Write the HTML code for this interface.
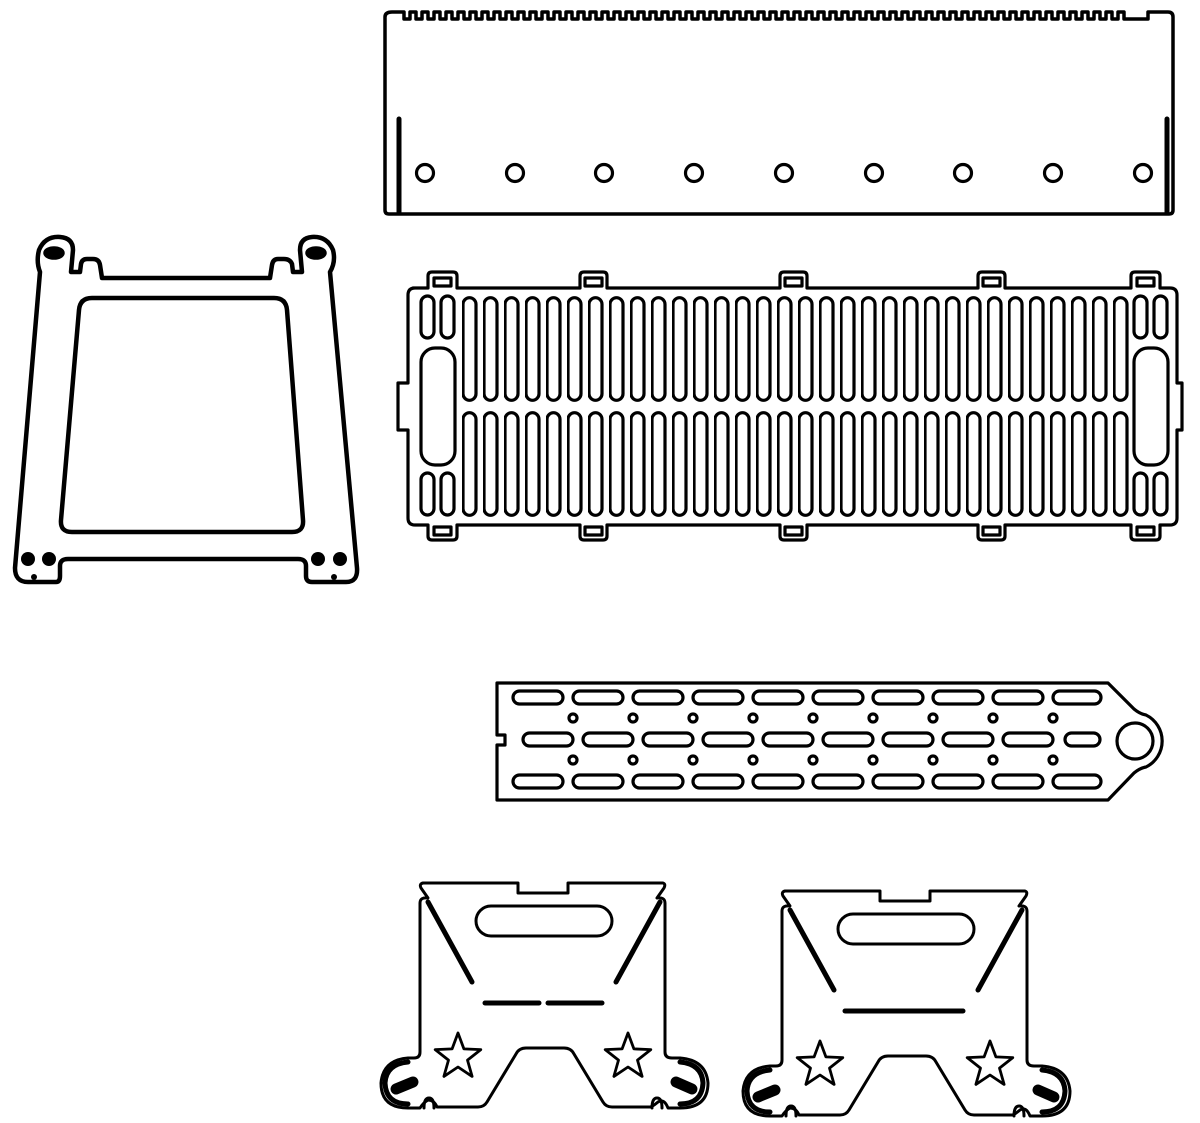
<!DOCTYPE html>
<html><head><meta charset="utf-8"><style>html,body{margin:0;padding:0;background:#fff}svg{display:block}</style></head>
<body>
<svg width="1200" height="1123" viewBox="0 0 1200 1123" xmlns="http://www.w3.org/2000/svg" fill="none" stroke="#000" stroke-width="3.5" stroke-linejoin="round" stroke-linecap="round">
<defs>
<pattern id="gs" patternUnits="userSpaceOnUse" x="462" y="296" width="21" height="106">
<rect x="1" y="1.7" width="13" height="102.6" rx="6.5" stroke="#000" stroke-width="3.2" fill="none"/>
</pattern>
<polygon id="star" points="0,-24 5.9,-8.1 22.8,-7.4 9.5,3.1 14.1,19.4 0,10 -14.1,19.4 -9.5,3.1 -22.8,-7.4 -5.9,-8.1" stroke-width="2.8"/>
<g id="bracketbase">
<path d="M423,883 H518 V893 H568 V883 H663 Q666,884 664,888 L657,898 Q665,897 665,903 V1052 Q665,1058 672,1058 H680 Q706,1060 708,1083 Q708,1108 680,1108 H668 Q664,1098 658,1102 Q652,1107 650,1107 H612 Q606,1107 603,1102 L574,1054 Q571,1048 564,1048 H526 Q519,1048 516,1054 L487,1102 Q484,1107 478,1107 H437 Q434,1100 428,1100 Q423,1103 420,1108 H408 Q381,1108 381,1083 Q383,1060 408,1058 H414 Q420,1058 420,1052 V903 Q420,897 428,898 L421,888 Q419,884 423,883 Z" stroke-width="3"/>
<path d="M408,1062 Q386,1064 385,1083 Q386,1104 408,1104" stroke-width="5"/>
<path d="M680,1062 Q702,1064 703,1083 Q702,1104 680,1104" stroke-width="5"/>
<line x1="428" y1="902" x2="472" y2="982" stroke-width="5"/>
<line x1="660" y1="902" x2="616" y2="982" stroke-width="5"/>
<rect x="476" y="906" width="136" height="30" rx="15" stroke-width="3"/>
<use href="#star" x="458" y="1057"/>
<use href="#star" x="628" y="1057"/>
<line x1="396" y1="1089" x2="413" y2="1082" stroke-width="11"/>
<line x1="676" y1="1082" x2="692" y2="1089" stroke-width="11"/>
<path d="M424,1108 Q424,1098 429,1098 Q434,1098 434,1108" stroke-width="3"/>
<path d="M652,1108 Q652,1098 657,1098 Q662,1098 662,1108" stroke-width="3"/>
</g>
</defs>

<!-- top bar -->
<path d="M392,12 H404 V19 h6v-7h6v7h6v-7h6v7h6v-7h6v7h6v-7h6v7h6v-7h6v7h6v-7h6v7h6v-7h6v7h6v-7h6v7h6v-7h6v7h6v-7h6v7h6v-7h6v7h6v-7h6v7h6v-7h6v7h6v-7h6v7h6v-7h6v7h6v-7h6v7h6v-7h6v7h6v-7h6v7h6v-7h6v7h6v-7h6v7h6v-7h6v7h6v-7h6v7h6v-7h6v7h6v-7h6v7h6v-7h6v7h6v-7h6v7h6v-7h6v7h6v-7h6v7h6v-7h6v7h6v-7h6v7h6v-7h6v7h6v-7h6v7h6v-7h6v7h6v-7h6v7h6v-7h6v7h6v-7h6v7h6v-7h6v7h6v-7h6v7h6v-7h6v7h6v-7h6v7h6v-7h6v7h6v-7h6v7h6v-7h6v7h6v-7h6v7h6v-7h6v7h6v-7h6v7h6v-7h6v7h6v-7h6v7h6v-7h6v7h6v-7h6v7h6v-7h6v7h6v-7h6v7h6v-7h6v7h6v-7h6v7h6v-7h6v7h6v-7h6v7h6v-7h6v7h6v-7h6v7h6v-7h6v7h6v-7h6v7 H1148 V12 H1168 Q1173,12 1173,17 V210 Q1173,214 1169,214 H389 Q385,214 385,210 V17 Q385,12 392,12 Z"/>
<line x1="399" y1="119" x2="399" y2="212" stroke-width="5"/>
<line x1="1167" y1="119" x2="1167" y2="212" stroke-width="5"/>
<g stroke-width="3.2">
<circle cx="425" cy="173" r="8.5"/><circle cx="515" cy="173" r="8.5"/><circle cx="604" cy="173" r="8.5"/><circle cx="694" cy="173" r="8.5"/><circle cx="784" cy="173" r="8.5"/><circle cx="874" cy="173" r="8.5"/><circle cx="963" cy="173" r="8.5"/><circle cx="1053" cy="173" r="8.5"/><circle cx="1143" cy="173" r="8.5"/>
</g>

<!-- left frame -->
<path d="M40,272 L15,568 Q15,582 28,582 H56 Q60,582 60,576 V566 Q60,559 68,559 H298 Q306,559 306,566 V576 Q306,582 312,582 H346 Q358,582 357,568 L330,272 Q336,262 333,250 Q327,236 312,237 Q300,238 300,250 L302,272 H293 L292,264 Q290,259 284,259 H278 Q273,259 272,265 L270,278 H102 L100,265 Q99,259 93,259 H87 Q82,259 81,264 L80,272 H71 L73,250 Q73,238 60,237 Q45,236 39,250 Q36,262 40,272 Z" stroke-width="4.5"/>
<ellipse cx="54" cy="253" rx="9" ry="5" fill="#000"/>
<ellipse cx="316" cy="253" rx="9" ry="5" fill="#000"/>
<path d="M92,298 H274 Q286,298 287,310 L303,520 Q304,532 292,532 H72 Q60,532 61,520 L79,310 Q80,298 92,298 Z" stroke-width="4.5"/>
<g fill="#000" stroke="none">
<circle cx="28" cy="559" r="7"/><circle cx="49" cy="559" r="7"/><circle cx="318" cy="559" r="7"/><circle cx="340" cy="559" r="7"/>
<circle cx="34" cy="577" r="3"/><circle cx="334" cy="577" r="3"/>
</g>

<!-- grate -->
<g stroke-width="3.2">
<path d="M413,288 H428 V276 Q428,272 432,272 H453 Q457,272 457,276 V288 H580 V276 Q580,272 584,272 H603 Q607,272 607,276 V288 H780 V276 Q780,272 784,272 H803 Q807,272 807,276 V288 H978 V276 Q978,272 982,272 H1001 Q1005,272 1005,276 V288 H1131 V276 Q1131,272 1135,272 H1156 Q1160,272 1160,276 V288 H1170 Q1177,288 1177,295 V383 H1182 V430 H1177 V518 Q1177,525 1170,525 H1160 V536 Q1160,540 1156,540 H1135 Q1131,540 1131,536 V525 H1005 V536 Q1005,540 1001,540 H982 Q978,540 978,536 V525 H807 V536 Q807,540 803,540 H784 Q780,540 780,536 V525 H607 V536 Q607,540 603,540 H584 Q580,540 580,536 V525 H457 V536 Q457,540 453,540 H432 Q428,540 428,536 V525 H415 Q408,525 408,518 V430 H398 V383 H408 V295 Q408,288 415,288 Z"/>
<rect x="434" y="278" width="17" height="8"/><rect x="585" y="278" width="17" height="8"/><rect x="785" y="278" width="17" height="8"/><rect x="983" y="278" width="17" height="8"/><rect x="1137" y="278" width="17" height="8"/>
<rect x="434" y="527" width="17" height="8"/><rect x="585" y="527" width="17" height="8"/><rect x="785" y="527" width="17" height="8"/><rect x="983" y="527" width="17" height="8"/><rect x="1137" y="527" width="17" height="8"/>
<rect x="421" y="348" width="34" height="117" rx="14"/>
<rect x="1134" y="348" width="34" height="117" rx="14"/>
<rect x="421" y="296" width="13" height="42" rx="6.5"/><rect x="441" y="296" width="13" height="42" rx="6.5"/>
<rect x="421" y="473" width="13" height="42" rx="6.5"/><rect x="441" y="473" width="13" height="42" rx="6.5"/>
<rect x="1134" y="296" width="13" height="42" rx="6.5"/><rect x="1154" y="296" width="13" height="42" rx="6.5"/>
<rect x="1134" y="473" width="13" height="42" rx="6.5"/><rect x="1154" y="473" width="13" height="42" rx="6.5"/>
</g>
<rect x="462" y="296" width="672" height="106" fill="url(#gs)" stroke="none"/>
<g transform="translate(0,115)"><rect x="462" y="296" width="672" height="106" fill="url(#gs)" stroke="none"/></g>

<!-- plank -->
<g stroke-width="3.2">
<path d="M497,683 H1108 L1134,709 Q1140,714 1146,715 A29,29 0 0 1 1146,767 Q1140,768 1134,773 L1108,800 H497 V745 H505 V735 H497 Z"/>
<circle cx="1135" cy="741" r="18"/>
<g>
<rect x="513" y="691" width="50" height="13" rx="6.5"/><rect x="573" y="691" width="50" height="13" rx="6.5"/><rect x="633" y="691" width="50" height="13" rx="6.5"/><rect x="693" y="691" width="50" height="13" rx="6.5"/><rect x="753" y="691" width="50" height="13" rx="6.5"/><rect x="813" y="691" width="50" height="13" rx="6.5"/><rect x="873" y="691" width="50" height="13" rx="6.5"/><rect x="933" y="691" width="50" height="13" rx="6.5"/><rect x="993" y="691" width="50" height="13" rx="6.5"/><rect x="1053" y="691" width="48" height="13" rx="6.5"/>
</g>
<g transform="translate(0,84)">
<rect x="513" y="691" width="50" height="13" rx="6.5"/><rect x="573" y="691" width="50" height="13" rx="6.5"/><rect x="633" y="691" width="50" height="13" rx="6.5"/><rect x="693" y="691" width="50" height="13" rx="6.5"/><rect x="753" y="691" width="50" height="13" rx="6.5"/><rect x="813" y="691" width="50" height="13" rx="6.5"/><rect x="873" y="691" width="50" height="13" rx="6.5"/><rect x="933" y="691" width="50" height="13" rx="6.5"/><rect x="993" y="691" width="50" height="13" rx="6.5"/><rect x="1053" y="691" width="48" height="13" rx="6.5"/>
</g>
<rect x="523" y="733" width="50" height="13" rx="6.5"/><rect x="583" y="733" width="50" height="13" rx="6.5"/><rect x="643" y="733" width="50" height="13" rx="6.5"/><rect x="703" y="733" width="50" height="13" rx="6.5"/><rect x="763" y="733" width="50" height="13" rx="6.5"/><rect x="823" y="733" width="50" height="13" rx="6.5"/><rect x="883" y="733" width="50" height="13" rx="6.5"/><rect x="943" y="733" width="50" height="13" rx="6.5"/><rect x="1003" y="733" width="50" height="13" rx="6.5"/><rect x="1065" y="733" width="35" height="13" rx="6.5"/>
<circle cx="573" cy="718" r="4"/><circle cx="633" cy="718" r="4"/><circle cx="693" cy="718" r="4"/><circle cx="753" cy="718" r="4"/><circle cx="813" cy="718" r="4"/><circle cx="873" cy="718" r="4"/><circle cx="933" cy="718" r="4"/><circle cx="993" cy="718" r="4"/><circle cx="1053" cy="718" r="4"/>
<circle cx="573" cy="760" r="4"/><circle cx="633" cy="760" r="4"/><circle cx="693" cy="760" r="4"/><circle cx="753" cy="760" r="4"/><circle cx="813" cy="760" r="4"/><circle cx="873" cy="760" r="4"/><circle cx="933" cy="760" r="4"/><circle cx="993" cy="760" r="4"/><circle cx="1053" cy="760" r="4"/>
</g>

<!-- brackets -->
<g>
<use href="#bracketbase"/>
<line x1="485" y1="1003" x2="539" y2="1003" stroke-width="5"/>
<line x1="548" y1="1003" x2="602" y2="1003" stroke-width="5"/>
<g transform="translate(362,8)"><use href="#bracketbase"/></g>
<line x1="845" y1="1011" x2="963" y2="1011" stroke-width="5"/>
</g>
</svg>
</body></html>
